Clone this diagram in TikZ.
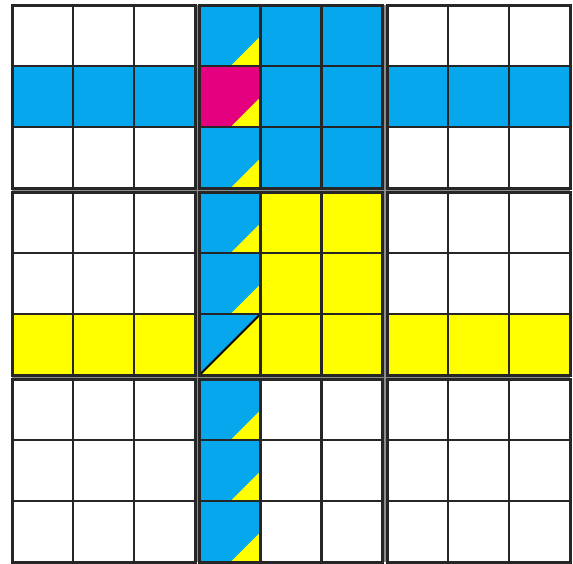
\documentclass[tikz,border=0pt]{standalone}
\definecolor{sblue}{HTML}{06A7EC}
\definecolor{syel}{HTML}{FFFF00}
\definecolor{smag}{HTML}{E4007F}
\definecolor{sline}{HTML}{262626}
\definecolor{sgap}{HTML}{8C8C8C}
\newcommand{\sdkpos}[2]{%
  \pgfmathsetmacro{\sdkx}{12+61*#1+4.5*int(#1/3)}%
  \pgfmathsetmacro{\sdky}{5+61*#2+4*int(#2/3)}%
}
\newcommand{\sdkfill}[3]{%
  \sdkpos{#1}{#2}%
  \fill[#3] (\sdkx,\sdky) rectangle ++(61,61);%
}
\newcommand{\sdktri}[2]{%
  \sdkpos{#1}{#2}%
  \fill[syel] (\sdkx+61,\sdky+61) -- (\sdkx+61,\sdky+31) -- (\sdkx+31,\sdky+61) -- cycle;%
}
\begin{document}
\begin{tikzpicture}[x=1pt,y=-1pt]
\useasboundingbox (0,0) rectangle (573,563);
\fill[white] (0,0) rectangle (573,563);
% gaps between blocks
\fill[sgap] (195,5) rectangle (199.5,562);
\fill[sgap] (382.5,5) rectangle (387,562);
\fill[sgap] (12,188) rectangle (570,192);
\fill[sgap] (12,375) rectangle (570,379);
% row 2 blue
\foreach \c in {0,1,2,4,5,6,7,8} { \sdkfill{\c}{1}{sblue} }
% top middle block blue
\foreach \c in {3,4,5} { \foreach \r in {0,2} { \sdkfill{\c}{\r}{sblue} } }
\sdkfill{3}{1}{smag}
% column 4 blue
\foreach \r in {3,4,5,6,7,8} { \sdkfill{3}{\r}{sblue} }
% middle block yellow
\foreach \c in {4,5} { \foreach \r in {3,4,5} { \sdkfill{\c}{\r}{syel} } }
% row 6 yellow
\foreach \c in {0,1,2,6,7,8} { \sdkfill{\c}{5}{syel} }
% small yellow triangles in column 4
\foreach \r in {0,1,2,3,4,6,7,8} { \sdktri{3}{\r} }
% split cell
\sdkpos{3}{5}
\fill[syel] (\sdkx+61,\sdky) -- (\sdkx+61,\sdky+61) -- (\sdkx,\sdky+61) -- cycle;
\draw[black, line width=1.8pt] (\sdkx+61,\sdky) -- (\sdkx,\sdky+61);
% grid lines
\foreach \bi in {0,1,2} {
  \foreach \bj in {0,1,2} {
    \pgfmathsetmacro{\bx}{12+187.5*\bi}
    \pgfmathsetmacro{\by}{5+187*\bj}
    \foreach \k in {1,2} {
      \draw[sline, line width=2.2pt] (\bx+61*\k,\by) -- ++(0,183);
      \draw[sline, line width=2.2pt] (\bx,\by+61*\k) -- ++(183,0);
    }
    \draw[sline, line width=3pt] (\bx,\by) rectangle ++(183,183);
  }
}
\end{tikzpicture}
\end{document}
